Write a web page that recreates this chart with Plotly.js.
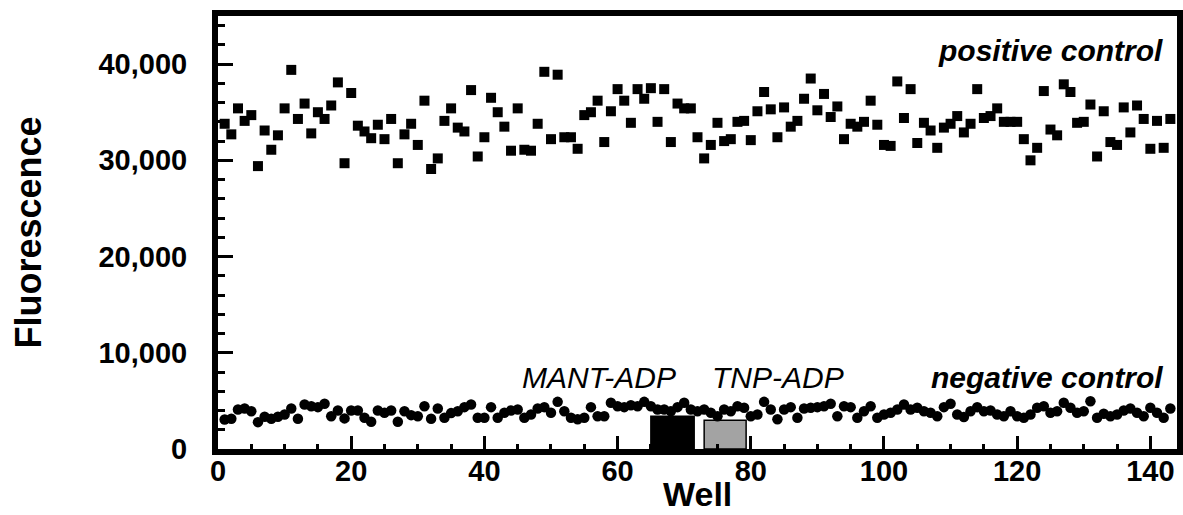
<!DOCTYPE html>
<html><head><meta charset="utf-8">
<script src="https://cdn.plot.ly/plotly-3.0.1.min.js"></script>
<style>html,body{margin:0;padding:0;background:#fff;overflow:hidden}</style>
</head><body><div id="chart" style="width:1183px;height:515px"></div>
<script>
const wells = [1,2,3,4,5,6,7,8,9,10,11,12,13,14,15,16,17,18,19,20,21,22,23,24,25,26,27,28,29,30,
31,32,33,34,35,36,37,38,39,40,41,42,43,44,45,46,47,48,49,50,51,52,53,54,55,56,57,58,59,60,
61,62,63,64,65,66,67,68,69,70,71,72,73,74,75,76,77,78,79,80,81,82,83,84,85,86,87,88,89,90,
91,92,93,94,95,96,97,98,99,100,101,102,103,104,105,106,107,108,109,110,111,112,113,114,115,
116,117,118,119,120,121,122,123,124,125,126,127,128,129,130,131,132,133,134,135,136,137,138,
139,140,141,142,143];

const positiveControl = [33800,32700,35400,34100,34700,29400,33100,31100,32600,35400,
39400,34300,35900,32800,35000,34300,35700,38100,29700,37000,
33600,33000,32300,33700,32200,34300,29700,32700,33800,31600,
36200,29100,30200,34100,35400,33400,33000,37300,30400,32400,
36500,35000,33500,31000,35400,31100,31000,33800,39200,32200,
38900,32400,32400,31200,34700,35000,36200,31900,35100,37400,
36200,33900,37400,36400,37500,34000,37400,31900,35900,35400,
35400,32400,30200,31600,33900,32000,32200,34000,34100,32100,
35100,37100,35300,32400,35500,33500,34100,36400,38500,35200,
36900,34500,35600,32200,33800,33500,34000,36200,33700,31600,
31500,38200,34400,37400,31800,33900,33100,31300,33400,33800,
34600,32900,33800,37400,34400,34600,35400,34000,34000,34000,
32200,30000,31300,37200,33200,32600,37900,37100,33900,34000,
35800,30400,35100,31900,31600,35500,32900,35700,34300,31200,
34100,31300,34300];

const negativeControl = [3070,3140,4110,4210,3930,2790,3350,3140,3350,3590,
4210,3140,4620,4450,4350,4700,3410,4000,3180,4000,
4000,3250,2830,4000,3760,4000,2830,3930,3520,3410,
4450,3150,4210,3250,3730,3930,4350,4620,3250,3250,
4350,3250,3760,4000,4100,3250,3590,4210,4350,3760,
4900,3930,3250,3100,3250,4350,3410,3410,4800,4450,
4350,4550,4450,4900,4450,4100,4100,3930,4350,4800,
4100,3930,4100,3760,3410,4100,3930,4450,4280,3410,
3590,4900,4100,3100,4100,4350,3250,4210,4280,4350,
4450,4700,3410,4450,4350,3250,3930,4450,3250,3590,
3760,4100,4620,4100,4280,3930,3760,3410,4350,4700,
3590,3320,3930,4350,3930,4000,3590,3410,3930,3410,
3250,3590,4280,4450,3760,3930,4800,4280,3760,3930,
4970,3250,3660,3410,3590,4000,4210,3760,3410,4280,
3760,3250,4210];

const barLabels = ['MANT-ADP','TNP-ADP'];
const barCenters = [68.25, 76.15];
const barWidths = [6.5, 6.3];
const barValues = [3410, 3000];

const FONT = 'Liberation Sans, Arial, Helvetica, sans-serif';

const traces = [
  {type:'bar', x:barCenters, y:barValues, width:barWidths, text:barLabels, textposition:'none',
   marker:{color:['#000000','#a3a3a3'], line:{color:'#000', width:1.5}}},
  {type:'scatter', mode:'markers', name:'positive control', x:wells, y:positiveControl,
   marker:{symbol:'square', size:10, color:'#000'}},
  {type:'scatter', mode:'markers', name:'negative control', x:wells, y:negativeControl,
   marker:{symbol:'circle', size:10.5, color:'#000'}}
];

const tickFont = {family:FONT, size:29, color:'#000', weight:700};

const layout = {
  width:1183, height:515,
  margin:{l:218, r:6, t:16, b:66},
  paper_bgcolor:'#fff', plot_bgcolor:'#fff',
  showlegend:false,
  xaxis:{range:[0,144], showgrid:false, zeroline:false,
    showline:true, linewidth:6, linecolor:'#000', mirror:true,
    tickmode:'linear', tick0:0, dtick:20, ticks:'inside', ticklen:13, tickwidth:3, tickcolor:'#000',
    minor:{dtick:5, ticks:'inside', ticklen:5, tickwidth:3, tickcolor:'#000', showgrid:false},
    tickfont:tickFont, ticklabelstandoff:-9},
  yaxis:{range:[0,45000], showgrid:false, zeroline:false,
    showline:true, linewidth:6, linecolor:'#000', mirror:true,
    tickmode:'linear', tick0:0, dtick:10000, tickformat:',d', ticks:'inside', ticklen:15, tickwidth:3, tickcolor:'#000',
    minor:{dtick:2000, ticks:'inside', ticklen:7, tickwidth:3, tickcolor:'#000', showgrid:false},
    tickfont:tickFont, ticklabelstandoff:19},
  annotations:[
    {text:'Fluorescence', xref:'paper', yref:'paper', x:0, y:0.5, xshift:-190, textangle:-90,
     xanchor:'center', yanchor:'middle', showarrow:false, font:{family:FONT, size:36, color:'#000', weight:700}},
    {text:'Well', xref:'paper', yref:'paper', x:0.5, y:0, yshift:-45, xanchor:'center', yanchor:'middle',
     showarrow:false, font:{family:FONT, size:34, color:'#000', weight:700}},
    {text:'positive control', xref:'paper', yref:'paper', x:0.9875, y:0.921, xanchor:'right', yanchor:'middle',
     showarrow:false, font:{family:FONT, size:30, color:'#000', weight:700, style:'italic'}},
    {text:'negative control', xref:'paper', yref:'paper', x:0.9875, y:0.164, xanchor:'right', yanchor:'middle',
     showarrow:false, font:{family:FONT, size:30, color:'#000', weight:700, style:'italic'}},
    {text:'MANT-ADP', xref:'paper', yref:'paper', x:0.315, y:0.164, xanchor:'left', yanchor:'middle',
     showarrow:false, font:{family:FONT, size:30, color:'#000', style:'italic'}},
    {text:'TNP-ADP', xref:'paper', yref:'paper', x:0.513, y:0.164, xanchor:'left', yanchor:'middle',
     showarrow:false, font:{family:FONT, size:30, color:'#000', style:'italic'}}
  ]
};

Plotly.newPlot('chart', traces, layout, {displayModeBar:false, staticPlot:true});
</script>
</body></html>
